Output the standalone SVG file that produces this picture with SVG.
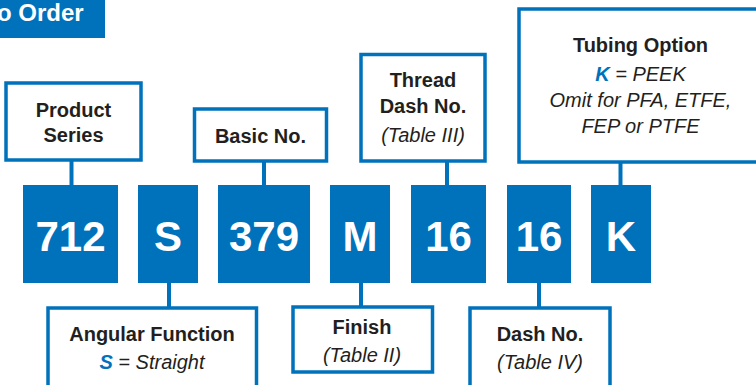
<svg xmlns="http://www.w3.org/2000/svg" width="756" height="385" viewBox="0 0 756 385">
<style>
.box{fill:#fff;stroke:#0072BC;stroke-width:3.5}
.code{fill:#0072BC}
.ct{font-family:"Liberation Sans",Arial,sans-serif;font-weight:bold;font-size:42px;fill:#fff;text-anchor:middle}
.lb{font-family:"Liberation Sans",Arial,sans-serif;font-weight:bold;font-size:20px;fill:#231F20;text-anchor:middle}
.it{font-family:"Liberation Sans",Arial,sans-serif;font-style:italic;font-size:20px;fill:#231F20;text-anchor:middle}
.hl{fill:#0072BC;font-weight:bold}
.conn{stroke:#0072BC;stroke-width:4;fill:none}
</style>
<rect width="756" height="385" fill="#fff"/>
<g id="title">
<rect x="0" y="0" width="105" height="38" fill="#0072BC"/>
<text x="-3" y="21" font-family="Liberation Sans,Arial,sans-serif" font-weight="bold" font-size="24" fill="#fff">o Order</text>
</g>
<g id="connectors">
<line class="conn" x1="71.5" y1="161" x2="71.5" y2="186"/>
<line class="conn" x1="264" y1="161" x2="264" y2="186"/>
<line class="conn" x1="447" y1="161" x2="447" y2="186"/>
<line class="conn" x1="620.5" y1="162" x2="620.5" y2="186"/>
<line class="conn" x1="169" y1="282" x2="169" y2="308"/>
<line class="conn" x1="361" y1="282" x2="361" y2="307"/>
<line class="conn" x1="539" y1="282" x2="539" y2="308"/>
</g>
<g id="code-712"><rect class="code" x="23" y="185" width="95" height="98"/><text class="ct" x="70.5" y="251">712</text></g>
<g id="code-S"><rect class="code" x="138" y="185" width="60" height="98"/><text class="ct" x="168" y="251">S</text></g>
<g id="code-379"><rect class="code" x="218" y="185" width="92" height="98"/><text class="ct" x="264" y="251">379</text></g>
<g id="code-M"><rect class="code" x="330" y="185" width="60" height="98"/><text class="ct" x="360" y="251">M</text></g>
<g id="code-16a"><rect class="code" x="411" y="185" width="75" height="98"/><text class="ct" x="448.5" y="251">16</text></g>
<g id="code-16b"><rect class="code" x="507" y="185" width="64" height="98"/><text class="ct" x="539" y="251">16</text></g>
<g id="code-K"><rect class="code" x="591" y="185" width="60" height="98"/><text class="ct" x="621" y="251">K</text></g>
<g id="product-series">
<rect class="box" x="6" y="83" width="135" height="77"/>
<text class="lb" x="73.5" y="117">Product</text>
<text class="lb" x="73.5" y="142">Series</text>
</g>
<g id="basic-no">
<rect class="box" x="194.5" y="109" width="132" height="52"/>
<text class="lb" x="260.5" y="142.5">Basic No.</text>
</g>
<g id="thread-dash">
<rect class="box" x="361" y="54.5" width="124" height="106.5"/>
<text class="lb" x="423" y="86.5">Thread</text>
<text class="lb" x="423" y="113">Dash No.</text>
<text class="it" x="423" y="141.5">(Table III)</text>
</g>
<g id="tubing-option">
<rect class="box" x="519" y="9" width="260" height="153"/>
<text class="lb" x="640.5" y="51.5">Tubing Option</text>
<text class="it" x="640.5" y="80.5"><tspan class="hl">K</tspan> = PEEK</text>
<text class="it" x="640.5" y="106.5">Omit for PFA, ETFE,</text>
<text class="it" x="640.5" y="133">FEP or PTFE</text>
</g>
<g id="angular-function">
<rect class="box" x="48" y="308" width="208.5" height="100"/>
<text class="lb" x="152" y="341">Angular Function</text>
<text class="it" x="152" y="369"><tspan class="hl">S</tspan> = Straight</text>
</g>
<g id="finish">
<rect class="box" x="293" y="307" width="139.5" height="65"/>
<text class="lb" x="362" y="333.5">Finish</text>
<text class="it" x="362" y="361.5">(Table II)</text>
</g>
<g id="dash-no">
<rect class="box" x="470" y="308" width="140" height="100"/>
<text class="lb" x="540" y="340.5">Dash No.</text>
<text class="it" x="540" y="369">(Table IV)</text>
</g>
</svg>
